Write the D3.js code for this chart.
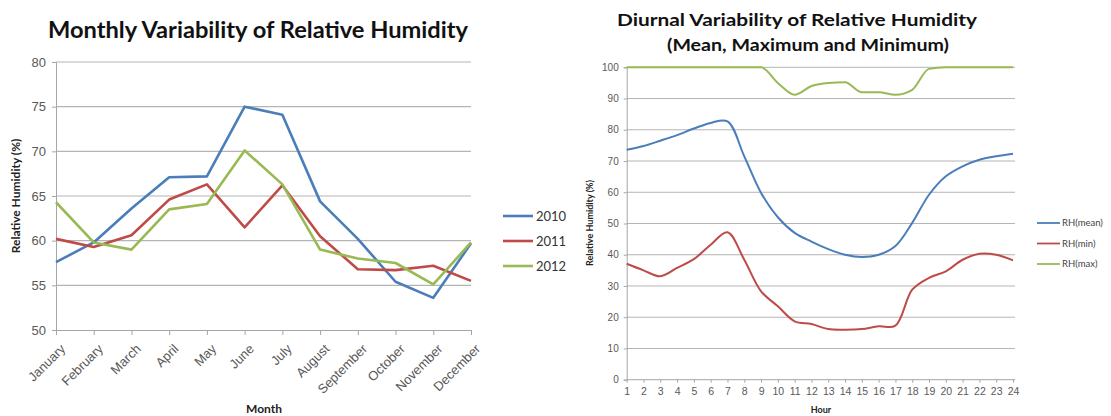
<!DOCTYPE html>
<html>
<head>
<meta charset="utf-8">
<script src="https://cdn.jsdelivr.net/npm/d3@7"></script>
<style>
  html, body { margin: 0; padding: 0; background: #fff; }
  svg { display: block; font-family: Lato, "Open Sans", "Liberation Sans", sans-serif; }
</style>
</head>
<body>
<svg id="chart" width="1111" height="416"></svg>
<script>
// Monthly relative humidity (%) per year
const months = ["January", "February", "March", "April", "May", "June",
  "July", "August", "September", "October", "November", "December"];
const years = ["2010", "2011", "2012"];
const rh2010 = [57.6, 59.8, 63.6, 67.1, 67.2, 75.0, 74.1, 64.4, 60.2, 55.4, 53.6, 59.7];
const rh2011 = [60.2, 59.3, 60.6, 64.6, 66.3, 61.5, 66.2, 60.5, 56.8, 56.7, 57.2, 55.5];
const rh2012 = [64.3, 59.8, 59.0, 63.5, 64.1, 70.1, 66.3, 59.0, 58.0, 57.5, 55.1, 59.8];
const monthlyTicks = [50, 55, 60, 65, 70, 75, 80];

// Hourly relative humidity (%): mean, minimum and maximum
const hours = d3.range(1, 25);
const seriesNames = ["RH(mean)", "RH(min)", "RH(max)"];
const rhMean = [73.6, 74.8, 76.5, 78.3, 80.4, 82.2, 82.7, 71.5, 59.8, 52.0, 47.0, 44.2,
  41.8, 40.0, 39.3, 40.0, 42.8, 50.2, 59.2, 65.1, 68.3, 70.4, 71.5, 72.3];
const rhMin = [37.1, 35.0, 33.1, 35.8, 38.6, 43.2, 47.2, 38.4, 28.3, 23.5, 18.7, 17.8,
  16.2, 16.0, 16.2, 17.1, 17.3, 28.8, 32.6, 34.7, 38.4, 40.3, 40.0, 38.2];
const rhMax = [100, 100, 100, 100, 100, 100, 100, 100, 100, 95.0, 91.2, 94.0,
  95.0, 95.2, 92.0, 92.0, 91.2, 92.8, 99.5, 100, 100, 100, 100, 100];
const diurnalTicks = d3.range(0, 101, 10);

const colors = ["#4a7ebb", "#be4b48", "#98b954"];
const gridColor = "#b4b4b4";
const axisColor = "#a6a6a6";
const tickText = "#595959";

const svg = d3.select("#chart");

/* ---------- Left: monthly variability ---------- */
{
  const g = svg.append("g");
  const x = d3.scalePoint().domain(months).range([56, 471]);
  const y = d3.scaleLinear().domain([50, 80]).range([330, 62]);

  // horizontal gridlines
  g.append("g").selectAll("line").data(monthlyTicks.slice(1)).join("line")
    .attr("x1", 56).attr("x2", 471)
    .attr("y1", d => y(d)).attr("y2", d => y(d))
    .attr("stroke", gridColor).attr("stroke-width", 1.2);

  // y axis
  const yAxis = g.append("g").attr("transform", "translate(56,0)")
    .call(d3.axisLeft(y).tickValues(monthlyTicks).tickSize(4).tickPadding(6));
  yAxis.select(".domain").attr("stroke", axisColor);
  yAxis.selectAll(".tick line").attr("stroke", axisColor);
  yAxis.selectAll("text").attr("fill", tickText).attr("font-size", 13);

  // x axis
  const xAxis = g.append("g").attr("transform", "translate(0,330)")
    .call(d3.axisBottom(x).tickSize(5).tickSizeOuter(0));
  xAxis.select(".domain").attr("stroke", axisColor);
  xAxis.selectAll(".tick line").attr("stroke", axisColor);
  xAxis.selectAll("text")
    .attr("fill", tickText).attr("font-size", 13)
    .attr("text-anchor", "end")
    .attr("dy", 0)
    .attr("transform", "translate(4,14) rotate(-45)");

  const line = d3.line().x((d, i) => x(months[i])).y(d => y(d));
  [rh2010, rh2011, rh2012].forEach((vals, k) => {
    g.append("path").datum(vals)
      .attr("d", line).attr("fill", "none")
      .attr("stroke", colors[k]).attr("stroke-width", 2.6)
      .attr("stroke-linejoin", "round");
  });

  // title and axis labels
  g.append("text").attr("x", 258).attr("y", 38)
    .attr("text-anchor", "middle").attr("font-size", 22).attr("font-weight", "bold")
    .attr("fill", "#111").attr("textLength", 420).attr("lengthAdjust", "spacingAndGlyphs")
    .text("Monthly Variability of Relative Humidity");
  g.append("text").attr("transform", "translate(20,196) rotate(-90)")
    .attr("text-anchor", "middle").attr("font-size", 12).attr("font-weight", "bold")
    .attr("fill", "#222").text("Relative Humidity (%)");
  g.append("text").attr("x", 264).attr("y", 413)
    .attr("text-anchor", "middle").attr("font-size", 12).attr("font-weight", "bold")
    .attr("fill", "#222").text("Month");

  // legend
  const lg = g.append("g").selectAll("g").data(years).join("g")
    .attr("transform", (d, i) => `translate(503,${216 + i * 25})`);
  lg.append("line").attr("x1", 0).attr("x2", 30)
    .attr("stroke", (d, i) => colors[i]).attr("stroke-width", 2.6);
  lg.append("text").attr("x", 33).attr("dy", "0.35em")
    .attr("font-size", 13).attr("fill", "#333").text(d => d);
}

/* ---------- Right: diurnal variability ---------- */
{
  const g = svg.append("g");
  const x = d3.scalePoint().domain(hours).range([626.7, 1013]);
  const y = d3.scaleLinear().domain([0, 100]).range([379.7, 67.3]);

  g.append("g").selectAll("line").data(diurnalTicks.slice(1)).join("line")
    .attr("x1", 626.7).attr("x2", 1015)
    .attr("y1", d => y(d)).attr("y2", d => y(d))
    .attr("stroke", gridColor).attr("stroke-width", 1);

  const yAxis = g.append("g").attr("transform", "translate(626.7,0)")
    .call(d3.axisLeft(y).tickValues(diurnalTicks).tickSize(3).tickPadding(5));
  yAxis.select(".domain").attr("stroke", axisColor);
  yAxis.selectAll(".tick line").attr("stroke", axisColor);
  yAxis.selectAll("text").attr("fill", tickText).attr("font-size", 10);

  const xAxis = g.append("g").attr("transform", "translate(0,379.7)")
    .call(d3.axisBottom(x).tickSize(3).tickSizeOuter(0).tickPadding(5));
  xAxis.select(".domain").attr("stroke", axisColor).attr("d", "M626.7,0H1015");
  xAxis.selectAll(".tick line").attr("stroke", axisColor);
  xAxis.selectAll("text").attr("fill", tickText).attr("font-size", 10.5);

  // smoothed curves; the maximum series is capped at 100 so it uses a monotone curve
  const smooth = d3.line().x((d, i) => x(hours[i])).y(d => y(d))
    .curve(d3.curveCatmullRom.alpha(0.5));
  const monotone = d3.line().x((d, i) => x(hours[i])).y(d => y(d))
    .curve(d3.curveMonotoneX);
  [rhMean, rhMin, rhMax].forEach((vals, k) => {
    g.append("path").datum(vals)
      .attr("d", k === 2 ? monotone : smooth).attr("fill", "none")
      .attr("stroke", colors[k]).attr("stroke-width", 2);
  });

  g.append("text").attr("x", 797).attr("y", 26)
    .attr("text-anchor", "middle").attr("font-size", 17).attr("font-weight", "bold")
    .attr("fill", "#111").attr("textLength", 360).attr("lengthAdjust", "spacingAndGlyphs")
    .text("Diurnal Variability of Relative Humidity");
  g.append("text").attr("x", 808).attr("y", 51)
    .attr("text-anchor", "middle").attr("font-size", 17).attr("font-weight", "bold")
    .attr("fill", "#111").attr("textLength", 282).attr("lengthAdjust", "spacingAndGlyphs")
    .text("(Mean, Maximum and Minimum)");
  g.append("text").attr("transform", "translate(593,223) rotate(-90)")
    .attr("text-anchor", "middle").attr("font-size", 9).attr("font-weight", "bold")
    .attr("fill", "#222").text("Relative Humidity (%)");
  g.append("text").attr("x", 821).attr("y", 413)
    .attr("text-anchor", "middle").attr("font-size", 9).attr("font-weight", "bold")
    .attr("fill", "#222").text("Hour");

  const lg = g.append("g").selectAll("g").data(seriesNames).join("g")
    .attr("transform", (d, i) => `translate(1037,${223 + i * 20.5})`);
  lg.append("line").attr("x1", 0).attr("x2", 23)
    .attr("stroke", (d, i) => colors[i]).attr("stroke-width", 1.8);
  lg.append("text").attr("x", 25).attr("dy", "0.35em")
    .attr("font-size", 9.5).attr("fill", "#444").text(d => d);
}
</script>
</body>
</html>
